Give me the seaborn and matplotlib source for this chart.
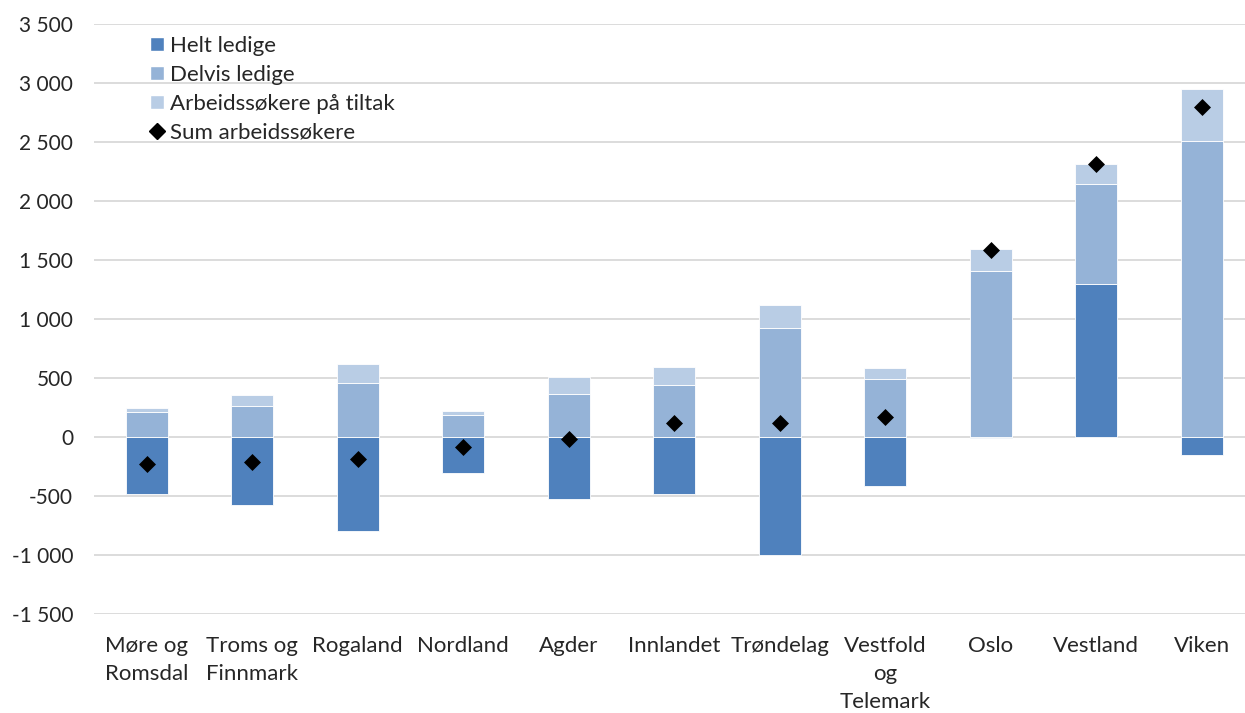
import numpy as np
import pandas as pd
import matplotlib
matplotlib.use("Agg")
import matplotlib.pyplot as plt
import seaborn as sns
from matplotlib.lines import Line2D
from matplotlib.patches import Patch
from matplotlib.ticker import FuncFormatter

categories = ["Møre og\nRomsdal", "Troms og\nFinnmark", "Rogaland", "Nordland", "Agder",
              "Innlandet", "Trøndelag", "Vestfold\nog\nTelemark", "Oslo", "Vestland", "Viken"]
helt_ledige = [-480, -580, -800, -305, -525, -480, -1000, -415, -10, 1300, -155]
delvis_ledige = [210, 265, 460, 190, 365, 440, 920, 495, 1405, 840, 2505]
tiltak = [40, 95, 155, 30, 140, 155, 200, 90, 190, 175, 445]
sum_arbeidssokere = [-230, -215, -185, -85, -20, 115, 120, 170, 1585, 2315, 2795]
yticks = [-1500, -1000, -500, 0, 500, 1000, 1500, 2000, 2500, 3000, 3500]

sns.set_theme(style="white")
plt.rcParams['font.family'] = ['Lato', 'DejaVu Sans']

c_helt = "#4F81BD"
c_delvis = "#95B3D7"
c_tiltak = "#B9CDE5"

fig = plt.figure(figsize=(12.45, 7.13), dpi=100)
ax = fig.add_axes([94/1245, 1-614/713, (1254.5-94)/1245, 590/713])

x = np.arange(len(categories))
series = [("Helt ledige", helt_ledige, c_helt),
          ("Delvis ledige", delvis_ledige, c_delvis),
          ("Arbeidssøkere på tiltak", tiltak, c_tiltak)]
pos_base = np.zeros(len(categories))
neg_base = np.zeros(len(categories))
for name, vals, col in series:
    vals = np.array(vals, dtype=float)
    bottoms = np.where(vals >= 0, pos_base, neg_base)
    ax.bar(x, vals, bottom=bottoms, width=0.4, color=col, edgecolor="white",
           linewidth=0.6, zorder=2)
    pos_base = pos_base + np.where(vals >= 0, vals, 0)
    neg_base = neg_base + np.where(vals < 0, vals, 0)

df = pd.DataFrame({"x": x, "sum": sum_arbeidssokere})
sns.scatterplot(data=df, x="x", y="sum", marker="D", s=75, color="black",
                edgecolor="black", linewidth=0, ax=ax, zorder=3)

ax.set_xlim(-0.5, len(categories) - 0.5)
ax.set_ylim(-1500, 3500)
ax.set_yticks(yticks)
ax.yaxis.set_major_formatter(FuncFormatter(lambda v, p: f"{int(v):,}".replace(",", " ")))
ax.set_xticks(x)
ax.set_xticklabels(categories, fontsize=16, linespacing=1.48)
ax.tick_params(axis="y", labelsize=15, length=0, pad=15)
ax.tick_params(axis="x", length=0, pad=16)
ax.grid(axis="y", color="#D9D9D9", linewidth=1.3, zorder=0)
ax.set_axisbelow(True)
for s in ax.spines.values():
    s.set_visible(False)
ax.set_xlabel("")
ax.set_ylabel("")

handles = [Patch(facecolor=c_helt, label="Helt ledige"),
           Patch(facecolor=c_delvis, label="Delvis ledige"),
           Patch(facecolor=c_tiltak, label="Arbeidssøkere på tiltak"),
           Line2D([], [], marker="D", color="black", linestyle="none", markersize=8,
                  label="Sum arbeidssøkere")]
leg = ax.legend(handles=handles, loc="upper left", bbox_to_anchor=(0.041, 0.995),
                frameon=False, fontsize=16, handlelength=0.6, handleheight=0.6,
                handletextpad=0.3, labelspacing=0.4, borderaxespad=0)

fig.savefig("out.png", dpi=100)
